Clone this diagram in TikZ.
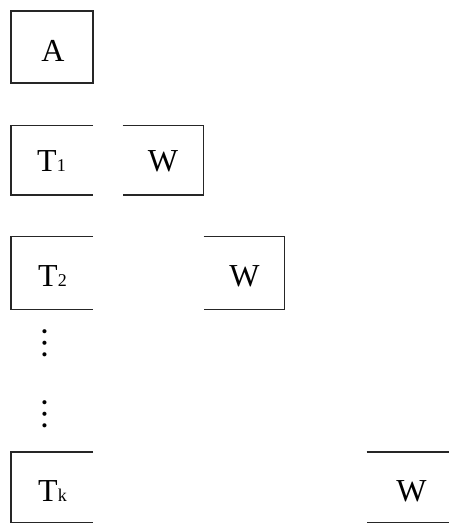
\documentclass[tikz,border=0pt]{standalone}
\usepackage{fontspec}
\setmainfont{Liberation Serif}
\newcommand\tsub[1]{{\fontsize{18}{18}\selectfont #1}}
\begin{document}
\begin{tikzpicture}[x=1pt,y=-1pt,
  lbl/.style={font=\fontsize{32}{32}\selectfont, inner sep=0pt, anchor=base},
  edge/.style={draw=black!85, line width=1.3pt},
  dotsty/.style={font=\fontsize{34.5}{34.5}\selectfont, inner sep=0pt, anchor=center, rotate=90}]
\useasboundingbox (0,0) rectangle (448,523);
% A
\draw[edge] (11,11) rectangle (93,83);
\node[lbl] (a) at (53,61.5) {A};
% row 1
\draw[edge] (93,125.3) -- (11,125.3) -- (11,195) -- (93,195);
\draw[edge] (122.7,125.3) -- (203.3,125.3) -- (203.3,195) -- (122.7,195);
\node[lbl] (t1) at (51.5,171.7) {T\tsub{1}};
\node[lbl] (w1) at (163,171.7) {W};
% row 2
\draw[edge] (93,236.7) -- (11,236.7) -- (11,309.3) -- (93,309.3);
\draw[edge] (203.7,236.7) -- (284.3,236.7) -- (284.3,309.3) -- (203.7,309.3);
\node[lbl] (t2) at (52.5,286.5) {T\tsub{2}};
\node[lbl] (w2) at (244.5,286.5) {W};
% vertical dots
\node[dotsty] (d1) at (44.7,342.8) {…};
\node[dotsty] (d2) at (44.7,414.5) {…};
% row k
\draw[edge] (93,452) -- (11,452) -- (11,523) -- (93,523);
\draw[edge] (366.7,452) -- (456,452) -- (456,523) -- (366.7,523);
\node[lbl] (tk) at (52.5,501.7) {T\tsub{k}};
\node[lbl] (wk) at (411.5,501.7) {W};
\end{tikzpicture}
\end{document}
